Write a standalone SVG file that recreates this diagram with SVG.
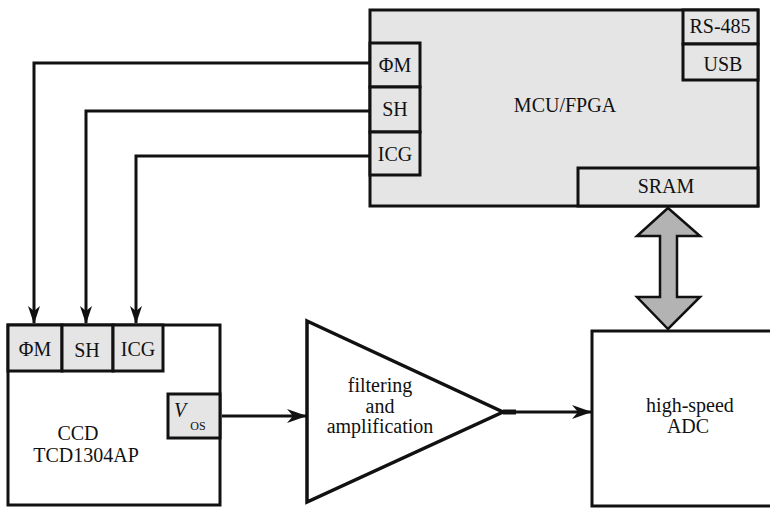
<svg xmlns="http://www.w3.org/2000/svg" width="770" height="511" viewBox="0 0 770 511">
<style>
text{font-family:"Liberation Serif","DejaVu Serif",serif;font-size:20px;fill:#111;text-anchor:middle}
.g{fill:#e5e5e5;stroke:#111;stroke-width:3}
.w{fill:#fff;stroke:#111;stroke-width:3}
.c{fill:none;stroke:#111;stroke-width:3}
</style>
<defs>
<marker id="ah" viewBox="0 0 20 14" refX="19" refY="7" markerWidth="20" markerHeight="14" markerUnits="userSpaceOnUse" orient="auto">
<path d="M0,0 L20,7 L0,14 L6,7 z" fill="#111"/>
</marker>
<marker id="av" viewBox="0 0 18 12" refX="17" refY="6" markerWidth="18" markerHeight="12" markerUnits="userSpaceOnUse" orient="auto">
<path d="M0,0 L18,6 L0,12 L5,6 z" fill="#111"/>
</marker>
</defs>
<rect width="770" height="511" fill="#fff"/>
<g id="mcu">
<rect class="g" x="370" y="10" width="388" height="196"/>
<text x="565" y="112">MCU/FPGA</text>
</g>
<g id="mcu-fm"><rect class="g" x="370" y="43" width="50" height="44"/><text x="395" y="72">ΦM</text></g>
<g id="mcu-sh"><rect class="g" x="370" y="87" width="50" height="45"/><text x="395" y="116">SH</text></g>
<g id="mcu-icg"><rect class="g" x="370" y="132" width="50" height="43"/><text x="395" y="161">ICG</text></g>
<g id="rs485"><rect class="g" x="683" y="10" width="75" height="34"/><text x="720" y="33">RS-485</text></g>
<g id="usb"><rect class="g" x="683" y="44" width="75" height="36"/><text x="723" y="71">USB</text></g>
<g id="sram"><rect class="g" x="578" y="168" width="180" height="38"/><text x="666" y="193">SRAM</text></g>
<g id="ccd">
<rect class="w" x="8" y="325" width="212" height="180"/>
<text x="78" y="440">CCD</text>
<text x="86" y="462">TCD1304AP</text>
</g>
<g id="ccd-fm"><rect class="g" x="8" y="325" width="54" height="46"/><text x="35" y="356">ΦM</text></g>
<g id="ccd-sh"><rect class="g" x="62" y="325" width="51" height="46"/><text x="87" y="357">SH</text></g>
<g id="ccd-icg"><rect class="g" x="113" y="325" width="50" height="46"/><text x="138" y="356">ICG</text></g>
<g id="vos"><rect class="g" x="168" y="394" width="52" height="44"/><text x="180" y="417" font-style="italic">V</text><text x="198" y="430" style="font-size:12px">OS</text></g>
<g id="amp">
<polygon points="307,321 503,412 307,502" fill="#fff" stroke="#111" stroke-width="3.5" stroke-linejoin="miter"/>
<text x="380" y="392">filtering</text>
<text x="380" y="413">and</text>
<text x="380" y="433">amplification</text>
</g>
<g id="adc">
<rect class="w" x="592" y="331" width="200" height="175"/>
<text x="690" y="412">high-speed</text>
<text x="688" y="433">ADC</text>
</g>
<g id="connectors">
<path class="c" d="M370,63 H34 V323" marker-end="url(#av)"/>
<path class="c" d="M370,111 H86 V323" marker-end="url(#av)"/>
<path class="c" d="M370,156 H136 V323" marker-end="url(#av)"/>
<path class="c" d="M222,416 H306" marker-end="url(#ah)"/>
<path class="c" d="M503,412 H591" marker-end="url(#ah)"/>
<path d="M503,412 H516" stroke="#111" stroke-width="5" fill="none"/>
<polygon points="668,208 700,236 677,236 677,297 700,297 668,329 637,297 660,297 660,236 637,236" fill="#b3b3b3" stroke="#111" stroke-width="2.5" stroke-linejoin="miter"/>
</g>
</svg>
